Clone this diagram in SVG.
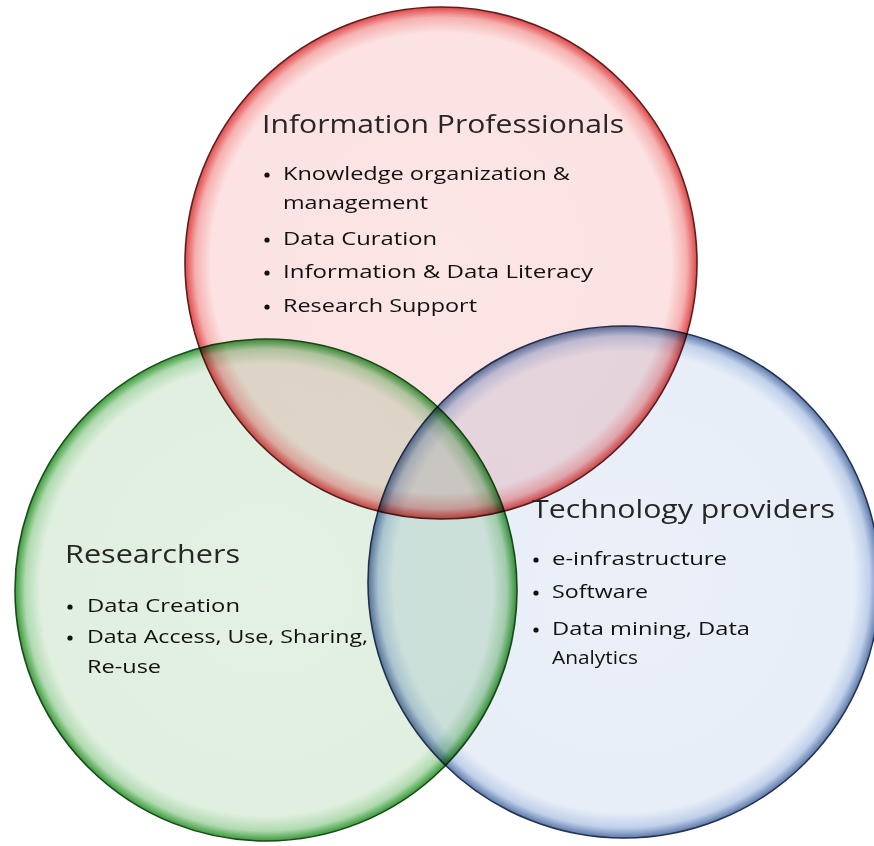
<svg xmlns="http://www.w3.org/2000/svg" width="874" height="846" viewBox="0 0 874 846">
<defs>
<radialGradient id="gRed" cx="50%" cy="50%" r="50%">
<stop offset="0" stop-color="#fde6e6"/>
<stop offset="0.9" stop-color="#fce2e2"/>
<stop offset="0.96" stop-color="#f6b0b0"/>
<stop offset="1" stop-color="#e04848"/>
</radialGradient>
<radialGradient id="gGreen" cx="50%" cy="50%" r="50%">
<stop offset="0" stop-color="#e4f1e4"/>
<stop offset="0.9" stop-color="#e0efe0"/>
<stop offset="0.96" stop-color="#b0dab0"/>
<stop offset="1" stop-color="#389a38"/>
</radialGradient>
<radialGradient id="gBlue" cx="50%" cy="50%" r="50%">
<stop offset="0" stop-color="#ebf0f8"/>
<stop offset="0.9" stop-color="#e7eef8"/>
<stop offset="0.96" stop-color="#c0d0ea"/>
<stop offset="1" stop-color="#5d7aab"/>
</radialGradient>
</defs>
<style>
.c{mix-blend-mode:multiply;stroke-width:1.6}
.h{font-family:"Open Sans","Liberation Sans",sans-serif;font-size:25px;fill:#262626}
.t{font-family:"Open Sans","Liberation Sans",sans-serif;font-size:18px;fill:#111111}
.b{fill:#111111}
</style>
<rect width="874" height="846" fill="#ffffff"/>
<g id="node-information-professionals">
<circle class="c" cx="441" cy="263" r="256" fill="url(#gRed)" stroke="#5a2020"/>
<text class="h" x="262" y="133" textLength="362" lengthAdjust="spacingAndGlyphs">Information Professionals</text>
<circle class="b" cx="267" cy="175" r="2.6"/>
<text class="t" x="283" y="180" textLength="287" lengthAdjust="spacingAndGlyphs">Knowledge organization &amp;</text>
<text class="t" x="283" y="209" textLength="145" lengthAdjust="spacingAndGlyphs">management</text>
<circle class="b" cx="267" cy="240" r="2.6"/>
<text class="t" x="283" y="245" textLength="154" lengthAdjust="spacingAndGlyphs">Data Curation</text>
<circle class="b" cx="267" cy="273" r="2.6"/>
<text class="t" x="283" y="278" textLength="310" lengthAdjust="spacingAndGlyphs">Information  &amp; Data Literacy</text>
<circle class="b" cx="267" cy="307" r="2.6"/>
<text class="t" x="283" y="312" textLength="194" lengthAdjust="spacingAndGlyphs">Research Support</text>
</g>
<g id="node-researchers">
<circle class="c" cx="266" cy="590" r="251" fill="url(#gGreen)" stroke="#1d4a1d"/>
<text class="h" x="65" y="563" textLength="175" lengthAdjust="spacingAndGlyphs">Researchers</text>
<circle class="b" cx="70" cy="607" r="2.6"/>
<text class="t" x="87" y="612" textLength="153" lengthAdjust="spacingAndGlyphs">Data Creation</text>
<circle class="b" cx="70" cy="638" r="2.6"/>
<text class="t" x="87" y="643" textLength="281" lengthAdjust="spacingAndGlyphs">Data Access, Use, Sharing,</text>
<text class="t" x="87" y="673" textLength="74" lengthAdjust="spacingAndGlyphs">Re-use</text>
</g>
<g id="node-technology-providers">
<circle class="c" cx="624" cy="582" r="256" fill="url(#gBlue)" stroke="#263350"/>
<text class="h" x="532" y="518" textLength="303" lengthAdjust="spacingAndGlyphs">Technology providers</text>
<circle class="b" cx="536" cy="560" r="2.6"/>
<text class="t" x="552" y="565" textLength="175" lengthAdjust="spacingAndGlyphs">e-infrastructure</text>
<circle class="b" cx="536" cy="593" r="2.6"/>
<text class="t" x="552" y="598" textLength="96" lengthAdjust="spacingAndGlyphs">Software</text>
<circle class="b" cx="536" cy="630" r="2.6"/>
<text class="t" x="552" y="635" textLength="198" lengthAdjust="spacingAndGlyphs">Data mining, Data</text>
<text class="t" x="552" y="664" textLength="86" lengthAdjust="spacingAndGlyphs">Analytics</text>
</g>
<g id="connectors"/>
</svg>
